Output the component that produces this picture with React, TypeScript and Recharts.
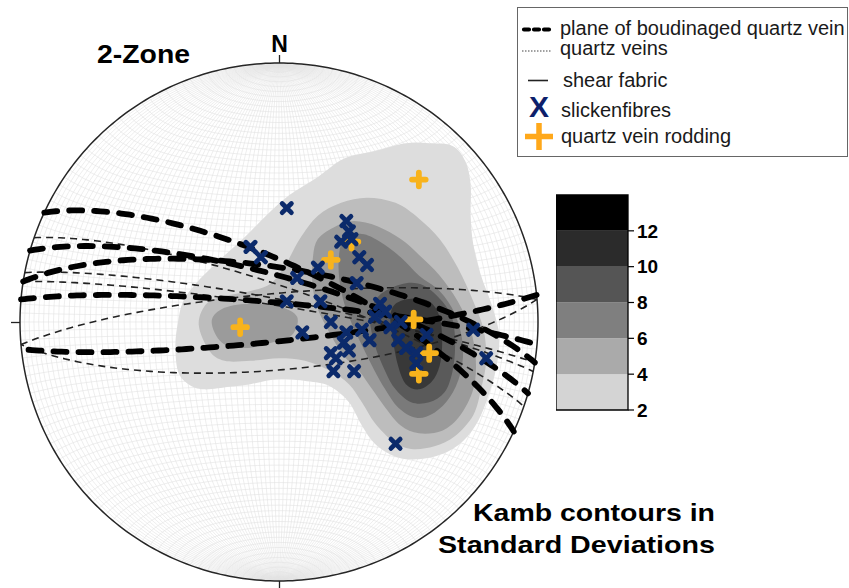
import React from 'react';
import { ComposedChart, Line, Scatter, XAxis, YAxis, ReferenceArea } from 'recharts';

// ---------- data (net coordinates: unit primitive circle, x = east, y = north) ----------

// Kamb contour outlines, one closed ring per level band
const contour2: number[][] = [
  [-0.39, 0.0], [-0.37, 0.08], [-0.32, 0.15], [-0.24, 0.23], [-0.14, 0.32], [-0.05, 0.41], [0.04, 0.49],
  [0.15, 0.56], [0.25, 0.63], [0.37, 0.66], [0.49, 0.69], [0.58, 0.69], [0.67, 0.68], [0.72, 0.62],
  [0.74, 0.53], [0.74, 0.41], [0.75, 0.3], [0.78, 0.18], [0.82, 0.07], [0.85, -0.05], [0.84, -0.17],
  [0.81, -0.28], [0.77, -0.38], [0.71, -0.46], [0.63, -0.51], [0.54, -0.53], [0.45, -0.52], [0.37, -0.47],
  [0.32, -0.4], [0.27, -0.31], [0.2, -0.25], [0.12, -0.23], [0.0, -0.22], [-0.11, -0.24], [-0.19, -0.25],
  [-0.29, -0.26], [-0.35, -0.24], [-0.39, -0.19], [-0.4, -0.09],
];
const contour4: number[][] = [
  [-0.31, -0.01], [-0.28, 0.07], [-0.21, 0.1], [-0.11, 0.12], [-0.03, 0.15], [0.03, 0.23], [0.08, 0.32],
  [0.15, 0.41], [0.24, 0.46], [0.34, 0.48], [0.45, 0.46], [0.54, 0.4], [0.62, 0.32], [0.69, 0.21],
  [0.75, 0.08], [0.79, -0.03], [0.8, -0.15], [0.78, -0.26], [0.75, -0.36], [0.68, -0.44], [0.6, -0.48],
  [0.51, -0.49], [0.44, -0.46], [0.37, -0.39], [0.32, -0.31], [0.27, -0.24], [0.2, -0.19], [0.1, -0.15],
  [0.0, -0.14], [-0.11, -0.15], [-0.21, -0.15], [-0.27, -0.11],
];
const contour6: number[][] = [
  [0.15, 0.32], [0.22, 0.37], [0.29, 0.39], [0.38, 0.37], [0.47, 0.32], [0.54, 0.26], [0.62, 0.18],
  [0.69, 0.08], [0.74, -0.03], [0.76, -0.15], [0.75, -0.26], [0.7, -0.36], [0.63, -0.42], [0.54, -0.43],
  [0.47, -0.4], [0.41, -0.33], [0.36, -0.26], [0.31, -0.19], [0.25, -0.13], [0.2, -0.05], [0.15, 0.05],
  [0.13, 0.14], [0.13, 0.24],
];
const contour6West: number[][] = [
  [-0.26, 0.0], [-0.22, 0.05], [-0.12, 0.07], [0.0, 0.06], [0.07, 0.02], [0.05, -0.05], [-0.03, -0.08],
  [-0.13, -0.1], [-0.22, -0.08],
];
const contour8: number[][] = [
  [0.25, 0.32], [0.32, 0.34], [0.39, 0.31], [0.47, 0.25], [0.54, 0.18], [0.62, 0.12], [0.68, 0.03],
  [0.71, -0.09], [0.7, -0.2], [0.66, -0.29], [0.6, -0.35], [0.53, -0.37], [0.46, -0.33], [0.41, -0.26],
  [0.37, -0.19], [0.32, -0.09], [0.27, 0.02], [0.24, 0.12], [0.23, 0.23],
];
const contour10: number[][] = [
  [0.41, 0.12], [0.49, 0.15], [0.56, 0.14], [0.63, 0.08], [0.67, 0.01], [0.68, -0.09], [0.67, -0.19],
  [0.64, -0.27], [0.58, -0.31], [0.51, -0.31], [0.45, -0.26], [0.41, -0.19], [0.37, -0.09], [0.35, 0.02],
  [0.37, 0.08],
];
const contour12: number[][] = [
  [0.45, 0.07], [0.51, 0.09], [0.58, 0.08], [0.62, 0.02], [0.63, -0.08], [0.62, -0.17], [0.59, -0.23],
  [0.54, -0.26], [0.49, -0.24], [0.46, -0.17], [0.44, -0.07], [0.43, 0.02],
];

// Colour-bar levels (standard deviations) and their greys
const levelBounds = [2, 4, 6, 8, 10, 12, 14];
const levelGreys = ['#d4d4d4', '#aaaaaa', '#7f7f7f', '#555555', '#2b2b2b', '#000000'];
// the same greys as they appear on the net (semi-transparent fill over white)
const netGreys = ['#dddddd', '#bdbdbd', '#9b9b9b', '#7a7a7a', '#5a5a5a', '#383838'];

const contourRings: { band: number; ring: number[][] }[] = [
  { band: 0, ring: contour2 },
  { band: 1, ring: contour4 },
  { band: 2, ring: contour6 },
  { band: 2, ring: contour6West },
  { band: 3, ring: contour8 },
  { band: 4, ring: contour10 },
  { band: 5, ring: contour12 },
];

// Planes: strike / dip, right-hand rule
const boudinagedVeinPlanes = [
  { strike: 295, dip: 72 },
  { strike: 286, dip: 76 },
  { strike: 279, dip: 73 },
  { strike: 275, dip: 84 },
  { strike: 84, dip: 84 },
];
const quartzVeinPlanes = [
  { strike: 289, dip: 79 },
  { strike: 281, dip: 83 },
  { strike: 279, dip: 85 },
  { strike: 265, dip: 81 },
  { strike: 85, dip: 75 },
];

// Lineations (net coordinates)
const slickenfibres: number[][] = [
  [0.03, 0.44], [0.26, 0.39], [0.27, 0.35], [0.24, 0.31], [0.28, 0.32], [-0.11, 0.29], [-0.07, 0.25],
  [0.07, 0.17], [0.15, 0.21], [0.31, 0.25], [0.34, 0.22], [0.3, 0.15], [0.03, 0.08], [0.16, 0.08],
  [0.09, -0.04], [0.2, 0.0], [0.39, 0.07], [0.37, 0.02], [0.41, 0.04], [0.47, 0.0], [0.32, -0.03],
  [0.35, -0.07], [0.26, -0.04], [0.25, -0.08], [0.27, -0.11], [0.22, -0.14], [0.2, -0.12], [0.21, -0.19],
  [0.29, -0.19], [0.43, -0.02], [0.46, -0.07], [0.49, -0.1], [0.53, -0.12], [0.53, -0.16], [0.57, -0.05],
  [0.75, -0.03], [0.8, -0.14], [0.45, -0.47],
];
const veinRodding: number[][] = [
  [0.54, 0.55], [0.2, 0.24], [0.28, 0.31], [-0.15, -0.02], [0.52, 0.01], [0.58, -0.12], [0.54, -0.2],
];

const colourbarTicks = [2, 4, 6, 8, 10, 12];

// ---------- projection helpers (equal-area, lower hemisphere) ----------
type NetPt = { x: number; y: number | null };
const RAD = Math.PI / 180;

function project(n: number, e: number, d: number): NetPt {
  const k = Math.sqrt(1 / (1 + Math.max(d, 0)));
  return { x: e * k, y: n * k };
}

function greatCircle(strike: number, dip: number, steps = 120): NetPt[] {
  const s = strike * RAD;
  const dd = dip * RAD;
  const S = [Math.cos(s), Math.sin(s), 0];
  const D = [Math.cos(s + Math.PI / 2) * Math.cos(dd), Math.sin(s + Math.PI / 2) * Math.cos(dd), Math.sin(dd)];
  const pts: NetPt[] = [];
  for (let i = 0; i <= steps; i++) {
    const p = (i / steps) * Math.PI;
    const c = Math.cos(p);
    const sn = Math.sin(p);
    pts.push(project(c * S[0] + sn * D[0], c * S[1] + sn * D[1], c * S[2] + sn * D[2]));
  }
  return pts;
}

function smallCircleNS(alpha: number, steps = 40): NetPt[] {
  const a = alpha * RAD;
  const pts: NetPt[] = [];
  for (let i = 0; i <= steps; i++) {
    const f = (i / steps) * Math.PI;
    pts.push(project(Math.cos(a), Math.sin(a) * Math.cos(f), Math.sin(a) * Math.sin(f)));
  }
  return pts;
}

// Schmidt net, 2° spacing
const netLines: NetPt[] = (() => {
  const out: NetPt[] = [];
  const gap = { x: 0, y: null };
  for (let d = 2; d <= 90; d += 2) {
    out.push(...greatCircle(0, d, 40), gap);
    if (d < 90) out.push(...greatCircle(180, d, 40), gap);
  }
  for (let a = 2; a <= 178; a += 2) out.push(...smallCircleNS(a), gap);
  return out;
})();

const primitive: NetPt[] = Array.from({ length: 361 }, (_, i) => ({ x: Math.sin(i * RAD), y: Math.cos(i * RAD) }));

const toXY = (arr: number[][]) => arr.map(([x, y]) => ({ x, y }));

// ---------- drawing helpers ----------
const FONT = '"Liberation Sans", Arial, Helvetica, sans-serif';
const NAVY = '#0b2a6b';
const AMBER = '#f8b31c';

function smoothClosed(pts: { x: number; y: number }[]): string {
  const n = pts.length;
  if (!n) return '';
  let d = `M${pts[0].x},${pts[0].y}`;
  for (let i = 0; i < n; i++) {
    const p0 = pts[(i - 1 + n) % n];
    const p1 = pts[i];
    const p2 = pts[(i + 1) % n];
    const p3 = pts[(i + 2) % n];
    const c1x = p1.x + (p2.x - p0.x) / 6;
    const c1y = p1.y + (p2.y - p0.y) / 6;
    const c2x = p2.x - (p3.x - p1.x) / 6;
    const c2y = p2.y - (p3.y - p1.y) / 6;
    d += `C${c1x},${c1y} ${c2x},${c2y} ${p2.x},${p2.y}`;
  }
  return d + 'Z';
}

function polyline(pts: { x: number; y: number }[]): string {
  return pts.map((p, i) => `${i ? 'L' : 'M'}${p.x.toFixed(2)},${p.y.toFixed(2)}`).join('');
}

const NoSymbol = () => <g />;

const SlickMark = (props: any) => {
  const { cx, cy } = props;
  const a = 4.6;
  return (
    <path
      d={`M${cx - a},${cy - a}L${cx + a},${cy + a}M${cx - a},${cy + a}L${cx + a},${cy - a}`}
      stroke={NAVY}
      strokeWidth={4.8}
      strokeLinecap="round"
      fill="none"
    />
  );
};

const RodMark = (props: any) => {
  const { cx, cy } = props;
  const a = 6.8;
  return (
    <path
      d={`M${cx - a},${cy}L${cx + a},${cy}M${cx},${cy - a}L${cx},${cy + a}`}
      stroke={AMBER}
      strokeWidth={5.8}
      strokeLinecap="round"
      fill="none"
    />
  );
};

const boudinagedLine = (p: any) => (
  <path
    d={polyline(p.points)}
    fill="none"
    stroke="#000"
    strokeWidth={5.8}
    strokeDasharray="13 12"
    strokeLinecap="round"
  />
);
const quartzVeinLine = (p: any) => (
  <path d={polyline(p.points)} fill="none" stroke="#222" strokeWidth={1.6} strokeDasharray="7 5" />
);

export default function App() {
  return (
    <div style={{ position: 'fixed', left: 0, top: 0, width: 849, height: 588, background: '#fff', overflow: 'hidden' }}>
      <div style={{ position: 'absolute', left: 0, top: 0 }}>
        <ComposedChart width={849} height={588} margin={{ top: 63, right: 311, bottom: 7, left: 20 }}>
          <XAxis dataKey="x" type="number" domain={[-1, 1]} hide />
          <YAxis dataKey="y" type="number" domain={[-1, 1]} hide />
          <Line
            data={netLines}
            dataKey="y"
            stroke="#e2e2e2"
            strokeWidth={0.6}
            dot={false}
            activeDot={false}
            connectNulls={false}
            isAnimationActive={false}
          />
          {contourRings.map((c, i) => (
            <Scatter
              key={`ring-${i}`}
              data={toXY(c.ring)}
              shape={NoSymbol}
              line={(p: any) => <path d={smoothClosed(p.points)} fill={netGreys[c.band]} stroke="none" />}
              isAnimationActive={false}
            />
          ))}
          <Line
            data={primitive}
            dataKey="y"
            stroke="#262626"
            strokeWidth={1.5}
            dot={false}
            activeDot={false}
            isAnimationActive={false}
          />
          {quartzVeinPlanes.map((pl, i) => (
            <Scatter
              key={`qv-${i}`}
              data={greatCircle(pl.strike, pl.dip)}
              shape={NoSymbol}
              line={quartzVeinLine}
              isAnimationActive={false}
            />
          ))}
          {boudinagedVeinPlanes.map((pl, i) => (
            <Scatter
              key={`bv-${i}`}
              data={greatCircle(pl.strike, pl.dip)}
              shape={NoSymbol}
              line={boudinagedLine}
              isAnimationActive={false}
            />
          ))}
          <Scatter data={toXY(veinRodding)} shape={RodMark} isAnimationActive={false} />
          <Scatter data={toXY(slickenfibres)} shape={SlickMark} isAnimationActive={false} />
        </ComposedChart>
      </div>

      {/* colour bar */}
      <div style={{ position: 'absolute', left: 556, top: 183 }}>
        <ComposedChart
          width={112}
          height={239}
          data={levelGreys.map((g, i) => ({ band: i, lo: levelBounds[i], hi: levelBounds[i + 1] }))}
          margin={{ top: 12, right: 0, bottom: 12, left: 0 }}
        >
          <XAxis dataKey="band" hide />
          <YAxis
            orientation="right"
            type="number"
            domain={[2, 14]}
            allowDataOverflow
            ticks={colourbarTicks}
            interval={0}
            width={40}
            tickSize={6}
            tickMargin={3}
            axisLine={false}
            tickLine={{ stroke: '#000', strokeWidth: 1.2 }}
            tick={{ fill: '#000', fontSize: 19, fontWeight: 700, fontFamily: FONT }}
          />
          {levelGreys.map((g, i) => (
            <ReferenceArea
              key={`band-${i}`}
              y1={levelBounds[i]}
              y2={levelBounds[i + 1]}
              fill={g}
              fillOpacity={1}
              stroke="none"
            />
          ))}
          <ReferenceArea y1={2} y2={14} fill="none" fillOpacity={0} stroke="#000" strokeWidth={1.3} />
        </ComposedChart>
      </div>

      {/* annotations and legend */}
      <svg
        width={849}
        height={588}
        style={{ position: 'absolute', left: 0, top: 0, pointerEvents: 'none' }}
        fontFamily={FONT}
      >
        <line x1={279.5} y1={55} x2={279.5} y2={63} stroke="#222" strokeWidth={1.3} />
        <line x1={11} y1={322.5} x2={20} y2={322.5} stroke="#222" strokeWidth={1.3} />
        <line x1={279.5} y1={581} x2={279.5} y2={588} stroke="#222" strokeWidth={1.3} />
        <text x={279.5} y={52} textAnchor="middle" fontSize={23} fontWeight={700} fill="#000">N</text>
        <text x={97} y={63} fontSize={25} fontWeight={700} fill="#000" textLength={93} lengthAdjust="spacingAndGlyphs">
          2-Zone
        </text>

        <rect x={517.5} y={7.5} width={330} height={149} fill="#fff" stroke="#666" strokeWidth={1} />
        <line x1={524} y1={29.5} x2={550} y2={29.5} stroke="#000" strokeWidth={4.2} strokeDasharray="5 5" strokeLinecap="round" />
        <text x={560} y={35} fontSize={20} fill="#1a1a1a">plane of boudinaged quartz vein</text>
        <line x1={522} y1={51} x2={552} y2={51} stroke="#444" strokeWidth={1.2} strokeDasharray="1.5 1.5" />
        <text x={560} y={55} fontSize={20} fill="#1a1a1a">quartz veins</text>
        <line x1={528} y1={80.5} x2={548} y2={80.5} stroke="#222" strokeWidth={1.6} />
        <text x={563} y={87} fontSize={20} fill="#1a1a1a">shear fabric</text>
        <text x={539} y={117} textAnchor="middle" fontSize={30} fontWeight={700} fill="#0d1f6b">X</text>
        <text x={561} y={117} fontSize={20} fill="#1a1a1a">slickenfibres</text>
        <path d="M525,136.5L553,136.5M539,123L539,150" stroke="#ffa81a" strokeWidth={5.5} fill="none" />
        <text x={561} y={143} fontSize={20} fill="#1a1a1a">quartz vein rodding</text>

        <text x={473} y={521} fontSize={24} fontWeight={700} fill="#000" textLength={242} lengthAdjust="spacingAndGlyphs">
          Kamb contours in
        </text>
        <text x={438} y={553} fontSize={24} fontWeight={700} fill="#000" textLength={277} lengthAdjust="spacingAndGlyphs">
          Standard Deviations
        </text>
      </svg>
    </div>
  );
}
